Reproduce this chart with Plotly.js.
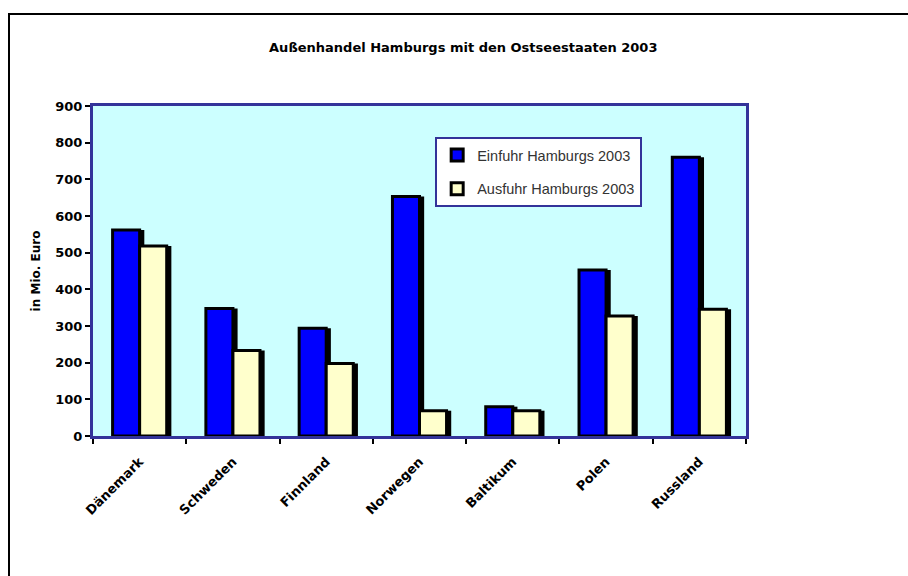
<!DOCTYPE html>
<html>
<head>
<meta charset="utf-8">
<script src="https://cdn.plot.ly/plotly-3.0.1.min.js"></script>
<style>
  html, body { margin: 0; padding: 0; background: #ffffff; }
  #frame { position: absolute; left: 8px; top: 13px; right: -10px; bottom: -10px; border-top: 2px solid #000; border-left: 2px solid #000; pointer-events: none; z-index: 5; }
  #chart { width: 908px; height: 576px; }
</style>
</head>
<body>
<div id="frame"></div>
<div id="chart"></div>
<script>
const categories = ['Dänemark', 'Schweden', 'Finnland', 'Norwegen', 'Baltikum', 'Polen', 'Russland'];
const einfuhr = [562, 348, 294, 653, 80, 453, 760];
const ausfuhr = [518, 233, 198, 69, 69, 327, 346];
const seriesNames = ['Einfuhr Hamburgs 2003', 'Ausfuhr Hamburgs 2003'];
const yTicks = [0, 100, 200, 300, 400, 500, 600, 700, 800, 900];

const barW = 0.29;
const shadowShift = 0.05;
const boldFont = 'DejaVu Sans, Liberation Sans, Arial, sans-serif';

const traces = [
  { type: 'bar', x: categories, y: einfuhr, width: barW, offset: -barW + shadowShift, marker: { color: '#000000', line: { width: 0 } }, showlegend: false, hoverinfo: 'skip' },
  { type: 'bar', x: categories, y: ausfuhr, width: barW, offset: shadowShift, marker: { color: '#000000', line: { width: 0 } }, showlegend: false, hoverinfo: 'skip' },
  { type: 'bar', name: seriesNames[0], legendgroup: 'a', x: categories, y: einfuhr, width: barW, offset: -barW, marker: { color: '#0000FF', line: { color: '#000000', width: 3 } } },
  { type: 'bar', name: seriesNames[1], legendgroup: 'b', x: categories, y: ausfuhr, width: barW, offset: 0, marker: { color: '#FFFFCC', line: { color: '#000000', width: 3 } } }
];

const layout = {
  width: 908, height: 576,
  margin: { l: 93, r: 162, t: 106, b: 140 },
  paper_bgcolor: '#ffffff',
  plot_bgcolor: '#CCFFFF',
  barmode: 'overlay',
  font: { family: 'Liberation Sans, Arial, sans-serif', color: '#000000' },
  title: {
    text: '<b>Außenhandel Hamburgs mit den Ostseestaaten 2003</b>',
    font: { size: 13, color: '#000000', family: boldFont },
    x: 0.567, xanchor: 'center', xref: 'paper',
    y: 0.917, yanchor: 'middle', yref: 'container'
  },
  xaxis: {
    type: 'category',
    tickson: 'boundaries',
    ticks: 'outside', ticklen: 5, tickwidth: 2, tickcolor: '#000000',
    tickangle: -45,
    ticklabelstandoff: 10,
    tickfont: { size: 13, color: '#000000', family: boldFont, weight: 'bold' },
    showline: true, linecolor: '#333399', linewidth: 3, mirror: true,
    showgrid: false, zeroline: false,
    range: [-0.5, 6.5]
  },
  yaxis: {
    range: [0, 900],
    tickvals: yTicks,
    ticktext: yTicks.map(String),
    ticks: 'outside', ticklen: 5, tickwidth: 2, tickcolor: '#000000',
    tickfont: { size: 13, color: '#000000', family: boldFont, weight: 'bold' },
    showline: true, linecolor: '#333399', linewidth: 3, mirror: true,
    showgrid: false, zeroline: false,
    title: { text: '<b>in Mio. Euro</b>', font: { size: 12, color: '#000000', family: boldFont }, standoff: 13 }
  },
  legend: {
    x: 0.524, xanchor: 'left', y: 0.906, yanchor: 'top',
    bgcolor: '#ffffff', bordercolor: '#333399', borderwidth: 2,
    font: { size: 14.5, color: '#333333', family: 'Liberation Sans, Arial, sans-serif' },
    traceorder: 'grouped',
    tracegroupgap: 12,
    itemwidth: 30
  },
  showlegend: true
};

Plotly.newPlot('chart', traces, layout, { displayModeBar: false, staticPlot: true });
</script>
</body>
</html>
